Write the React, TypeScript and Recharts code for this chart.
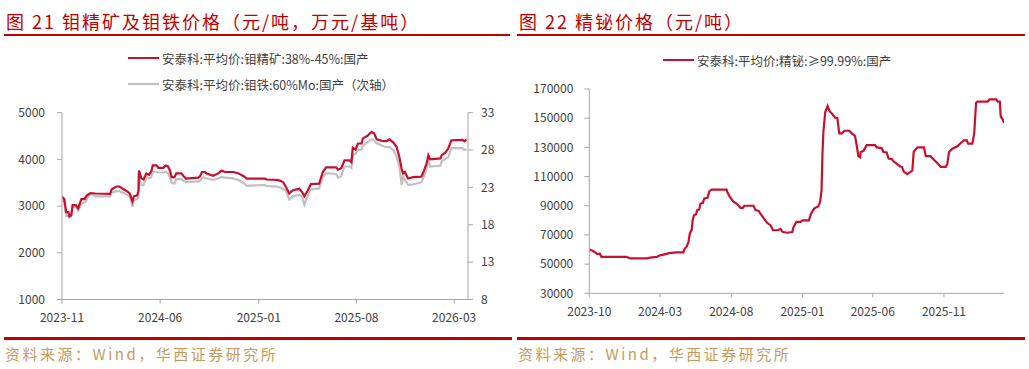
import { Line, LineChart, XAxis, YAxis } from "recharts";

const RED = "#c8102e";
const GRAY = "#c0c0c0";
const AXIS = "#a6a6a6";
const TEXT = "#404040";
const TITLE_RED = "#c00000";
const SANS = '"Microsoft YaHei", "Noto Sans CJK SC", sans-serif';
const SERIF = 'SimSun, "Noto Sans CJK SC", serif';

// 图21 钼精矿 / 钼铁
const moDates = [
  "2023-11-01", "2023-11-06", "2023-11-10", "2023-11-15", "2023-11-17", "2023-11-21", "2023-11-24", "2023-12-01",
  "2023-12-06", "2023-12-13", "2023-12-20", "2023-12-25", "2024-01-02", "2024-01-12", "2024-02-13", "2024-02-17",
  "2024-02-27", "2024-03-05", "2024-03-12", "2024-03-19", "2024-03-27", "2024-03-31", "2024-04-02", "2024-04-05",
  "2024-04-12", "2024-04-15", "2024-04-16", "2024-04-21", "2024-04-26", "2024-05-02", "2024-05-08", "2024-05-13",
  "2024-05-16", "2024-05-24", "2024-05-28", "2024-06-08", "2024-06-13", "2024-06-18", "2024-06-22", "2024-06-26",
  "2024-07-02", "2024-07-06", "2024-07-17", "2024-07-21", "2024-07-27", "2024-08-23", "2024-08-27", "2024-08-31",
  "2024-09-06", "2024-09-10", "2024-09-24", "2024-10-05", "2024-10-12", "2024-10-20", "2024-11-07", "2024-11-18",
  "2024-11-29", "2024-12-06", "2025-01-04", "2025-01-15", "2025-01-18", "2025-02-10", "2025-02-17", "2025-02-23",
  "2025-03-01", "2025-03-08", "2025-03-16", "2025-03-30", "2025-04-05", "2025-04-10", "2025-04-17", "2025-04-24",
  "2025-05-12", "2025-05-20", "2025-05-27", "2025-06-18", "2025-06-22", "2025-06-29", "2025-07-06", "2025-07-17",
  "2025-07-21", "2025-07-24", "2025-07-30", "2025-08-04", "2025-08-12", "2025-08-15", "2025-08-24", "2025-09-03",
  "2025-09-08", "2025-09-14", "2025-09-28", "2025-10-05", "2025-10-12", "2025-10-20", "2025-10-27", "2025-11-02",
  "2025-11-07", "2025-11-10", "2025-11-14", "2025-11-21", "2025-12-02", "2025-12-20", "2025-12-25", "2025-12-31",
  "2026-01-04", "2026-01-08", "2026-01-30", "2026-02-02", "2026-02-09", "2026-02-16", "2026-02-23", "2026-03-19",
  "2026-03-23", "2026-03-28",
];
const moConc = [
  3200, 3150, 2870, 2870, 2780, 2800, 3020, 3020, 2950, 3150, 3150, 3230, 3280, 3270, 3260, 3360,
  3420, 3420, 3370, 3330, 3270, 3150, 3100, 3210, 3230, 3320, 3760, 3600, 3570, 3700, 3670, 3750,
  3870, 3870, 3820, 3820, 3870, 3850, 3770, 3620, 3620, 3700, 3700, 3650, 3590, 3610, 3650, 3730,
  3730, 3700, 3650, 3700, 3760, 3730, 3730, 3700, 3640, 3590, 3590, 3590, 3570, 3560, 3540, 3510,
  3410, 3270, 3340, 3370, 3300, 3210, 3330, 3470, 3480, 3730, 3830, 3830, 3780, 3810, 3980, 3980,
  3940, 4250, 4210, 4340, 4340, 4450, 4500, 4590, 4560, 4430, 4390, 4390, 4430, 4360, 4270, 4050,
  3800, 3700, 3730, 3590, 3620, 3630, 3750, 3910, 4090, 4000, 4020, 4090, 4140, 4230, 4410, 4420,
  4390, 4420,
];
const moFe = [
  21.5, 21.0, 19.2, 19.2, 19.0, 19.3, 20.4, 20.4, 19.9, 20.8, 21.0, 21.4, 22.2, 21.8, 21.8, 22.3,
  22.5, 22.5, 22.3, 22.1, 21.8, 21.0, 20.4, 21.3, 21.4, 21.8, 24.5, 23.3, 23.3, 24.4, 24.2, 24.4,
  25.1, 25.1, 25.0, 25.0, 25.1, 24.9, 24.4, 23.6, 23.5, 24.1, 24.1, 23.9, 23.7, 23.8, 23.9, 24.3,
  24.3, 24.2, 24.0, 24.2, 24.4, 24.3, 24.2, 24.0, 23.6, 23.2, 23.3, 23.3, 23.2, 23.1, 23.0, 22.8,
  22.5, 21.4, 21.8, 22.0, 21.8, 20.7, 21.8, 22.7, 22.9, 24.4, 24.9, 24.8, 24.3, 24.5, 25.8, 25.8,
  25.6, 27.35, 27.5, 28.0, 28.1, 28.6, 29.0, 29.45, 29.3, 28.9, 28.5, 28.4, 28.4, 28.0, 27.1, 25.8,
  23.35, 24.4, 24.0, 23.35, 23.4, 23.7, 24.4, 25.5, 26.6, 25.8, 25.9, 26.5, 26.8, 27.0, 28.25, 28.25,
  28.0, 28.1,
];
const moTicks = ["2023-11", "2024-06", "2025-01", "2025-08", "2026-03"];
const moLeftTicks = [1000, 2000, 3000, 4000, 5000];
const moRightTicks = [8, 13, 18, 23, 28, 33];

// 图22 精铋
const biDates = [
  "2023-10-01", "2023-10-09", "2023-10-15", "2023-10-18", "2023-10-24", "2023-10-27", "2023-12-20", "2023-12-27",
  "2024-02-02", "2024-02-09", "2024-02-23", "2024-03-01", "2024-03-15", "2024-03-20", "2024-04-06", "2024-04-20",
  "2024-04-23", "2024-04-27", "2024-05-01", "2024-05-04", "2024-05-08", "2024-05-10", "2024-05-13", "2024-05-17",
  "2024-05-20", "2024-05-24", "2024-05-27", "2024-06-01", "2024-06-04", "2024-06-11", "2024-06-15", "2024-06-20",
  "2024-07-22", "2024-07-24", "2024-07-29", "2024-08-05", "2024-08-12", "2024-08-17", "2024-08-21", "2024-08-26",
  "2024-08-29", "2024-09-18", "2024-09-22", "2024-09-29", "2024-10-03", "2024-10-10", "2024-10-17", "2024-10-24",
  "2024-10-30", "2024-11-08", "2024-11-15", "2024-11-19", "2024-11-29", "2024-12-10", "2024-12-13", "2024-12-19",
  "2024-12-28", "2025-01-01", "2025-01-15", "2025-01-19", "2025-01-26", "2025-02-04", "2025-02-08", "2025-02-11",
  "2025-02-13", "2025-02-15", "2025-02-19", "2025-02-24", "2025-02-28", "2025-03-05", "2025-03-12", "2025-03-17",
  "2025-03-21", "2025-03-27", "2025-04-01", "2025-04-12", "2025-04-17", "2025-04-24", "2025-04-28", "2025-05-01",
  "2025-05-05", "2025-05-06", "2025-05-12", "2025-05-19", "2025-06-06", "2025-06-10", "2025-06-20", "2025-06-24",
  "2025-07-01", "2025-07-05", "2025-07-12", "2025-07-16", "2025-07-23", "2025-07-29", "2025-08-03", "2025-08-07",
  "2025-08-14", "2025-08-21", "2025-08-25", "2025-08-28", "2025-09-05", "2025-09-19", "2025-09-23", "2025-10-03",
  "2025-10-10", "2025-10-17", "2025-10-25", "2025-11-05", "2025-11-08", "2025-11-12", "2025-11-19", "2025-11-30",
  "2025-12-07", "2025-12-14", "2025-12-20", "2025-12-23", "2026-01-01", "2026-01-05", "2026-01-09", "2026-01-12",
  "2026-02-03", "2026-02-07", "2026-02-21", "2026-02-25", "2026-03-01", "2026-03-03", "2026-03-07", "2026-03-10",
];
const biPrice = [
  60000, 59000, 57700, 57000, 57000, 55000, 55000, 54000, 54000, 54500, 55000, 56000, 57000, 57500, 58000, 58000,
  60500, 62000, 65000, 71000, 73500, 80000, 83500, 84000, 87000, 87500, 91500, 92000, 95000, 95500, 100000, 101000,
  101000, 99000, 96000, 93000, 91500, 90000, 88500, 88500, 90000, 90000, 87000, 86500, 84500, 81300, 78300, 76700,
  73200, 73200, 74000, 72100, 71500, 72000, 75500, 79000, 79000, 80000, 80000, 84200, 88000, 89600, 92700, 100700,
  125900, 140700, 154400, 158300, 155000, 153300, 150300, 150300, 139600, 139600, 141400, 141400, 139600, 137800, 130400, 124000,
  123200, 126800, 127500, 131600, 131600, 130000, 129500, 126800, 126500, 122400, 122000, 120300, 118700, 117100, 116500, 113200,
  111700, 113200, 114000, 127000, 130000, 130000, 124000, 124000, 121700, 119400, 116700, 116700, 118500, 126800, 129100, 130700,
  133000, 134800, 134800, 132500, 132500, 139600, 160600, 161300, 161300, 162900, 162900, 161300, 161300, 151000, 149200, 146900,
];
const biTicks = ["2023-10", "2024-03", "2024-08", "2025-01", "2025-06", "2025-11"];
const biYTicks = [30000, 50000, 70000, 90000, 110000, 130000, 150000, 170000];

function ts(s: string) {
  const [y, m, d] = s.split("-").map(Number);
  return Date.UTC(y, m - 1, d || 1);
}

function monthLabel(t: number) {
  const d = new Date(t);
  return `${d.getUTCFullYear()}-${String(d.getUTCMonth() + 1).padStart(2, "0")}`;
}

const moData = moDates.map((d, i) => ({ t: ts(d), conc: moConc[i], fe: moFe[i] }));
const biData = biDates.map((d, i) => ({ t: ts(d), price: biPrice[i] }));

const tickStyle = { fill: TEXT, fontSize: 12, fontFamily: SANS };

function Title({ left, text }: { left: number; text: string }) {
  return (
    <div
      style={{
        position: "absolute",
        left,
        top: 8,
        fontFamily: SERIF,
        fontSize: 18,
        letterSpacing: 2,
        color: TITLE_RED,
        whiteSpace: "nowrap",
        lineHeight: "26px",
      }}
    >
      {text}
    </div>
  );
}

function Rule({ left, width, top, h }: { left: number; width: number; top: number; h: number }) {
  return (
    <div style={{ position: "absolute", left, top, width, height: h, background: TITLE_RED }} />
  );
}

function Source({ left }: { left: number }) {
  return (
    <div
      style={{
        position: "absolute",
        left,
        top: 343,
        fontFamily: SERIF,
        fontSize: 15,
        letterSpacing: 2.5,
        color: "#c89a5a",
        whiteSpace: "nowrap",
        lineHeight: "22px",
      }}
    >
      资料来源：Wind，华西证券研究所
    </div>
  );
}

function LegendRow({ left, top, color, label }: { left: number; top: number; color: string; label: string }) {
  return (
    <div
      style={{
        position: "absolute",
        left,
        top: top - 9,
        height: 18,
        display: "flex",
        alignItems: "center",
        fontFamily: SANS,
        fontSize: 12.5,
        color: TEXT,
        whiteSpace: "nowrap",
      }}
    >
      <span style={{ display: "inline-block", width: 31, height: 2.5, background: color, marginRight: 3 }} />
      {label}
    </div>
  );
}

export default function App() {
  return (
    <div style={{ position: "absolute", left: 0, top: 0, width: 1029, height: 369, background: "#fff", overflow: "hidden" }}>
      <Title left={6} text="图 21 钼精矿及钼铁价格（元/吨，万元/基吨）" />
      <Title left={519} text="图 22 精铋价格（元/吨）" />
      <Rule left={4} width={506} top={34} h={2} />
      <Rule left={517} width={508} top={34} h={2} />

      <LegendRow left={128} top={58} color={RED} label="安泰科:平均价:钼精矿:38%-45%:国产" />
      <LegendRow left={128} top={84} color={GRAY} label="安泰科:平均价:钼铁:60%Mo:国产（次轴）" />
      <LegendRow left={663} top={60} color={RED} label="安泰科:平均价:精铋:≥99.99%:国产" />

      <div style={{ position: "absolute", left: 0, top: 0 }}>
        <LineChart
          width={520}
          height={340}
          data={moData}
          margin={{ top: 112.7, left: 12, right: 12, bottom: 10.5 }}
        >
          <XAxis
            dataKey="t"
            type="number"
            domain={[ts("2023-11-01"), ts("2026-03-31")]}
            ticks={moTicks.map((m) => ts(m))}
            tickFormatter={monthLabel}
            allowDataOverflow
            height={30}
            tickSize={4}
            tickMargin={10}
            stroke={AXIS}
            tick={tickStyle}
          />
          <YAxis
            yAxisId="l"
            domain={[1000, 5000]}
            ticks={moLeftTicks}
            width={50}
            tickSize={5}
            tickMargin={12}
            stroke={AXIS}
            tick={tickStyle}
          />
          <YAxis
            yAxisId="r"
            orientation="right"
            domain={[8, 33]}
            ticks={moRightTicks}
            width={40}
            tickSize={5}
            tickMargin={8}
            stroke={AXIS}
            tick={tickStyle}
          />
          <Line
            yAxisId="r"
            dataKey="fe"
            stroke={GRAY}
            strokeWidth={2.2}
            dot={false}
            type="linear"
            isAnimationActive={false}
          />
          <Line
            yAxisId="l"
            dataKey="conc"
            stroke={RED}
            strokeWidth={2.2}
            dot={false}
            type="linear"
            isAnimationActive={false}
          />
        </LineChart>
      </div>

      <div style={{ position: "absolute", left: 510, top: 0 }}>
        <LineChart
          width={519}
          height={340}
          data={biData}
          margin={{ top: 89, left: 19.3, right: 25, bottom: 16.7 }}
        >
          <XAxis
            dataKey="t"
            type="number"
            domain={[ts("2023-10-01"), ts("2026-03-10")]}
            ticks={biTicks.map((m) => ts(m))}
            tickFormatter={monthLabel}
            allowDataOverflow
            height={30}
            tickSize={4}
            tickMargin={10}
            stroke={AXIS}
            tick={tickStyle}
          />
          <YAxis
            domain={[30000, 170000]}
            ticks={biYTicks}
            width={60}
            tickSize={5}
            tickMargin={11}
            stroke={AXIS}
            tick={tickStyle}
          />
          <Line
            dataKey="price"
            stroke={RED}
            strokeWidth={2.2}
            dot={false}
            type="linear"
            isAnimationActive={false}
          />
        </LineChart>
      </div>

      <Rule left={4} width={508} top={337} h={3} />
      <Rule left={517} width={508} top={337} h={3} />
      <Source left={5} />
      <Source left={518} />
    </div>
  );
}
